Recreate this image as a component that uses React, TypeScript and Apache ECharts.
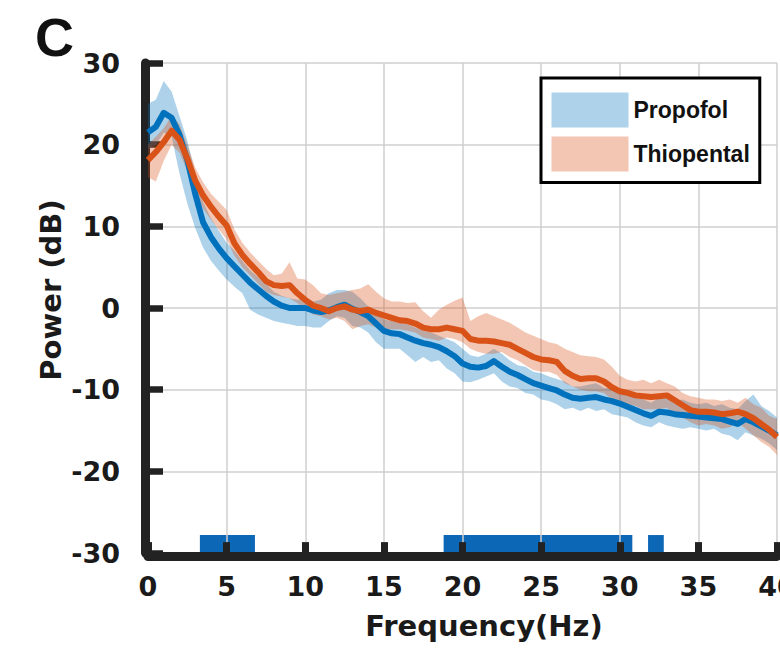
import React, { useEffect, useRef } from "react";
import * as echarts from "echarts";

// Frequency grid (Hz)
const freq = [
  0, 0.5, 1, 1.5, 2, 2.5, 3, 3.5, 4, 4.5,
  5, 5.5, 6, 6.5, 7, 7.5, 8, 8.5, 9, 9.5,
  10, 10.5, 11, 11.5, 12, 12.5, 13, 13.5, 14, 14.5,
  15, 15.5, 16, 16.5, 17, 17.5, 18, 18.5, 19, 19.5,
  20, 20.5, 21, 21.5, 22, 22.5, 23, 23.5, 24, 24.5,
  25, 25.5, 26, 26.5, 27, 27.5, 28, 28.5, 29, 29.5,
  30, 30.5, 31, 31.5, 32, 32.5, 33, 33.5, 34, 34.5,
  35, 35.5, 36, 36.5, 37, 37.5, 38, 38.5, 39, 39.5,
  40,
];

// Propofol mean power (dB)
const propofolMean = [
  21.5, 22.2, 23.9, 23.3, 21.2, 18.1, 14.0, 10.5, 8.7, 7.3,
  6.1, 5.1, 4.1, 3.1, 2.3, 1.5, 0.8, 0.3, 0.0, 0.0,
  0.0, -0.3, -0.5, -0.3, 0.1, 0.4, -0.1, -0.5, -1.0, -1.9,
  -2.8, -3.1, -3.2, -3.6, -4.0, -4.3, -4.5, -4.8, -5.3, -5.9,
  -6.8, -7.2, -7.3, -7.1, -6.5, -7.2, -7.8, -8.2, -8.7, -9.2,
  -9.5, -9.8, -10.1, -10.6, -11.0, -11.1, -11.0, -10.9, -11.2, -11.4,
  -11.7, -12.1, -12.5, -12.9, -13.2, -12.7, -12.8, -13.0, -13.1, -13.2,
  -13.3, -13.4, -13.5, -13.6, -13.9, -14.2, -13.6, -14.0, -14.5, -15.0,
  -15.6,
];
const propofolLo = [
  19.5, 20.0, 21.5, 21.0, 16.5, 12.8, 9.8, 7.4, 5.8, 4.6,
  3.5, 2.6, 1.8, -0.2, -0.8, -1.2, -1.6, -1.8, -2.0, -2.2,
  -2.2, -2.4, -2.4, -1.6, -1.0, -1.2, -2.2, -2.4, -3.0, -4.2,
  -5.0, -5.0, -5.0, -5.8, -6.6, -6.0, -6.6, -6.4, -7.4, -8.0,
  -9.0, -9.1, -8.8, -8.4, -8.0, -9.0, -9.6, -9.8, -10.4, -10.6,
  -11.2, -11.4, -11.8, -12.4, -12.2, -12.6, -12.2, -12.6, -12.4, -13.0,
  -13.2, -13.4, -14.0, -14.4, -14.6, -14.0, -14.4, -14.6, -14.8, -14.6,
  -14.8, -15.0, -14.8, -15.4, -15.6, -16.2, -15.2, -15.6, -16.0, -16.6,
  -17.4,
];
const propofolHi = [
  25.0, 25.5, 27.8, 26.5, 23.5, 20.5, 16.5, 13.0, 11.0, 9.5,
  8.0, 7.0, 5.8, 4.6, 3.8, 3.0, 2.0, 1.5, 1.2, 1.0,
  1.2, 0.8, 1.0, 1.8, 2.2, 2.2, 2.0, 1.2, 0.2, -0.6,
  -1.4, -1.6, -1.8, -2.0, -2.4, -2.8, -3.0, -3.4, -3.8, -4.2,
  -5.0, -5.8, -6.0, -5.6, -5.0, -5.6, -6.4, -7.0, -7.2, -7.8,
  -8.0, -8.4, -8.7, -9.0, -9.6, -9.6, -9.4, -9.2, -9.8, -9.8,
  -10.2, -10.6, -11.0, -11.2, -11.6, -11.0, -11.0, -11.4, -11.2, -11.6,
  -11.8, -11.6, -12.0, -11.8, -12.2, -12.4, -11.4, -10.6, -12.0, -12.6,
  -13.4,
];

// Thiopental mean power (dB)
const thiopentalMean = [
  18.1, 19.1, 20.3, 21.7, 20.6, 18.3, 15.6, 13.8, 12.4, 11.2,
  10.1, 7.9, 6.5, 5.4, 4.4, 3.3, 2.8, 2.7, 2.8, 1.8,
  1.0, 0.3, 0.0, -0.4, 0.0, 0.2, -0.2, -0.4, -0.2, -0.6,
  -0.9, -1.2, -1.5, -1.6, -1.9, -2.4, -2.6, -2.6, -2.4, -2.6,
  -2.8, -3.8, -4.0, -4.0, -4.1, -4.3, -4.5, -5.0, -5.5, -6.0,
  -6.3, -6.4, -6.6, -7.7, -8.3, -8.7, -8.6, -8.6, -9.0, -9.7,
  -10.2, -10.4, -10.7, -10.8, -10.9, -10.8, -10.7, -11.3, -11.9, -12.5,
  -12.7, -12.7, -12.8, -13.0, -12.9, -12.7, -13.0, -13.5, -14.2, -14.9,
  -15.8,
];
const thiopentalLo = [
  16.0, 15.5, 18.0, 20.0, 19.0, 16.8, 14.0, 12.2, 10.8, 9.6,
  8.4, 6.4, 5.0, 4.0, 3.0, 2.0, 1.6, 1.4, 1.2, 0.6,
  -0.2, -0.8, -1.0, -1.4, -1.2, -1.6, -2.6, -2.2, -2.0, -2.4,
  -2.6, -2.6, -2.6, -2.8, -3.0, -3.6, -3.8, -4.0, -3.6, -3.8,
  -4.2, -5.0, -5.4, -5.6, -5.6, -5.4, -6.0, -6.4, -7.0, -7.6,
  -7.8, -7.8, -8.2, -9.2, -9.6, -10.0, -10.2, -10.2, -10.4, -11.2,
  -11.6, -11.8, -12.0, -12.4, -12.4, -12.4, -12.2, -13.0, -13.4, -14.0,
  -14.4, -14.2, -14.4, -14.8, -14.6, -14.0, -14.8, -15.6, -16.4, -17.0,
  -18.0,
];
const thiopentalHi = [
  20.0, 21.0, 22.0, 23.5, 22.5, 20.0, 17.2, 15.4, 14.0, 13.0,
  12.0, 9.6, 8.0, 6.8, 5.8, 4.8, 4.0, 4.2, 5.6, 3.6,
  3.5, 2.8, 1.8, 1.6, 1.8, 2.0, 2.2, 2.4, 2.9, 2.0,
  1.2, 0.8, 0.8, 0.6, 0.7, -0.4, -1.2, -0.2, 0.4, 0.9,
  1.3, -1.6, -1.0, -0.6, -1.0, -1.4, -1.8, -2.4, -3.0, -3.4,
  -3.8, -4.2, -4.4, -5.0, -5.4, -5.8, -5.9, -6.0, -6.3, -7.2,
  -8.3, -8.8, -9.0, -8.8, -9.2, -8.8, -9.2, -9.6, -10.4, -10.8,
  -11.0, -11.2, -11.2, -11.4, -11.2, -11.6, -11.0, -11.8, -12.2, -13.2,
  -13.6,
];

// Significant frequency ranges (Hz) marked along the bottom
const sigStart = [3.3, 18.8, 31.8];
const sigEnd = [6.8, 30.8, 32.8];
const sigTop = -27.8;

const xTicks = { min: 0, max: 40, interval: 5 };
const yTicks = { min: -30, max: 30, interval: 10 };

const seriesNames = ["Propofol", "Thiopental"];

const BLUE = "#0072BD";
const ORANGE = "#D95319";
const BLUE_BAND = "rgba(0,114,189,0.32)";
const ORANGE_BAND = "rgba(217,83,25,0.33)";

function bandSeries(name: string, lo: number[], hi: number[], color: string) {
  return {
    type: "custom",
    name,
    silent: true,
    clip: true,
    itemStyle: { color },
    data: [[freq[0], lo[0]]],
    renderItem: (_params: any, api: any) => {
      const pts: number[][] = [];
      for (let i = 0; i < freq.length; i++) pts.push(api.coord([freq[i], hi[i]]));
      for (let i = freq.length - 1; i >= 0; i--) pts.push(api.coord([freq[i], lo[i]]));
      return { type: "polygon", shape: { points: pts }, style: { fill: color } };
    },
  };
}

function lineSeries(name: string, mean: number[], color: string) {
  return {
    type: "line",
    name,
    silent: true,
    symbol: "none",
    showSymbol: false,
    data: freq.map((f, i) => [f, mean[i]]),
    lineStyle: { color, width: 6, join: "round" },
    itemStyle: { color },
  };
}

export default function App() {
  const ref = useRef<HTMLDivElement>(null);
  useEffect(() => {
    if (!ref.current) return;
    const chart = echarts.init(ref.current, undefined, { renderer: "svg" });
    const tickFont = { fontFamily: "DejaVu Sans", fontWeight: "bold" as const, fontSize: 27, color: "#1a1a1a" };
    chart.setOption({
      animation: false,
      backgroundColor: "#ffffff",
      grid: {
        left: 148,
        top: 63,
        width: 629,
        height: 490,
        containLabel: false,
        outerBoundsMode: "none",
      },
      xAxis: {
        type: "value",
        min: xTicks.min,
        max: xTicks.max,
        interval: xTicks.interval,
        offset: 3.6,
        axisLine: { show: true, onZero: false, lineStyle: { color: "#222", width: 9 } },
        axisTick: { show: true, inside: true, length: 14.5, lineStyle: { color: "#222", width: 7 } },
        axisLabel: { ...tickFont, margin: 16, hideOverlap: false },
        splitLine: { show: true, lineStyle: { color: "#cfcfcf", width: 1.5 } },
      },
      yAxis: {
        type: "value",
        min: yTicks.min,
        max: yTicks.max,
        interval: yTicks.interval,
        offset: 3,
        axisLine: { show: true, onZero: false, lineStyle: { color: "#222", width: 9 } },
        axisTick: { show: true, inside: true, length: 18, lineStyle: { color: "#222", width: 6.5 } },
        axisLabel: { ...tickFont, margin: 25 },
        splitLine: { show: true, lineStyle: { color: "#cfcfcf", width: 1.5 } },
      },
      legend: {
        show: true,
        orient: "vertical",
        left: 541,
        top: 78,
        padding: [14.5, 10, 11, 10.5],
        itemWidth: 77,
        itemHeight: 35,
        itemGap: 9,
        icon: "rect",
        backgroundColor: "#ffffff",
        borderColor: "#000000",
        borderWidth: 3,
        borderRadius: 0,
        selectedMode: false,
        textStyle: { fontFamily: "Liberation Sans", fontWeight: "bold", fontSize: 23, color: "#111" },
        data: [
          { name: seriesNames[0], itemStyle: { color: BLUE_BAND } },
          { name: seriesNames[1], itemStyle: { color: ORANGE_BAND } },
        ],
      },
      series: [
        {
          type: "custom",
          name: "significant",
          silent: true,
          z: -1,
          data: sigStart.map((s, i) => [s, sigEnd[i]]),
          renderItem: (_params: any, api: any) => {
            const p0 = api.coord([api.value(0), yTicks.min]);
            const p1 = api.coord([api.value(1), sigTop]);
            return {
              type: "rect",
              shape: { x: p0[0], y: p1[1], width: p1[0] - p0[0], height: p0[1] - p1[1] },
              style: { fill: "#0d67b7" },
            };
          },
        },
        bandSeries(seriesNames[0], propofolLo, propofolHi, BLUE_BAND),
        lineSeries(seriesNames[0] + " mean", propofolMean, BLUE),
        bandSeries(seriesNames[1], thiopentalLo, thiopentalHi, ORANGE_BAND),
        lineSeries(seriesNames[1] + " mean", thiopentalMean, ORANGE),
      ],
      graphic: [
        {
          type: "text",
          left: 35,
          top: 10,
          style: { text: "C", font: "bold 54px 'Liberation Sans'", fill: "#111" },
        },
        {
          type: "text",
          x: 484,
          y: 626,
          style: {
            text: "Frequency(Hz)",
            font: "bold 29px 'DejaVu Sans'",
            fill: "#1a1a1a",
            align: "center",
            verticalAlign: "middle",
          },
        },
        {
          type: "text",
          x: 51,
          y: 290,
          rotation: Math.PI / 2,
          style: {
            text: "Power (dB)",
            font: "bold 29px 'DejaVu Sans'",
            fill: "#1a1a1a",
            align: "center",
            verticalAlign: "middle",
          },
        },
      ],
    });
    return () => chart.dispose();
  }, []);
  return (
    <div
      ref={ref}
      style={{ position: "absolute", left: 0, top: 0, width: 780, height: 660, background: "#fff" }}
    />
  );
}
